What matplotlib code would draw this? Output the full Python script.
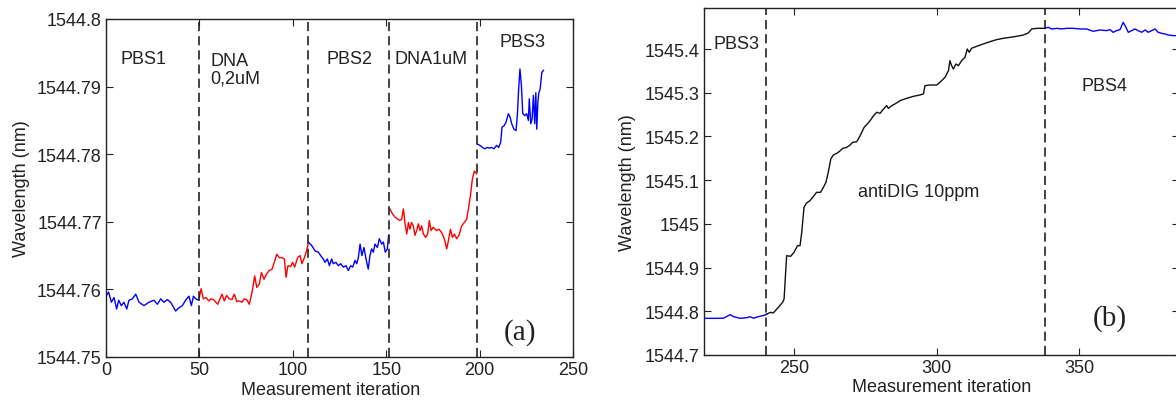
import matplotlib
matplotlib.use('Agg')
import matplotlib.pyplot as plt
from matplotlib.ticker import MultipleLocator, FuncFormatter

plt.rcParams['font.family'] = ['Liberation Sans', 'DejaVu Sans']

# ---- panel (a) data ----
pbs1_x = [0, 1.4, 2.9, 4.3, 5.7, 6.8, 8.2, 9.6, 11.1, 12.3, 14.1, 15.9, 17.7, 20.3, 23.0, 25.7,
          27.5, 29.3, 31.0, 32.8, 34.6, 37.3, 39.1, 40.9, 42.6, 44.4, 45.7, 46.8, 48.0, 49.8]
pbs1_y = [1544.7590, 1544.7596, 1544.7581, 1544.7588, 1544.7571, 1544.7584, 1544.7576, 1544.7581,
          1544.7571, 1544.7584, 1544.7586, 1544.7593, 1544.7581, 1544.7576, 1544.7581, 1544.7584,
          1544.7578, 1544.7586, 1544.7581, 1544.7585, 1544.7581, 1544.7568, 1544.7573, 1544.7576,
          1544.7584, 1544.7590, 1544.7576, 1544.7590, 1544.7586, 1544.7584]

dna02_x = [49.8, 50.9, 52.1, 53.5, 55.0, 56.2, 57.5, 58.5, 59.8, 61.0, 62.1, 63.3, 64.6, 66.0, 67.4,
           68.7, 70.0, 71.4, 72.8, 74.0, 75.3, 76.7, 78.2, 79.6, 80.7, 82.1, 83.2, 84.6, 86.0, 87.4,
           88.9, 90.1, 91.4, 92.8, 94.2, 95.5, 96.4, 97.4, 98.9, 99.9, 101.0, 102.6, 103.9, 104.9,
           106.2, 107.4, 108.2]
dna02_y = [1544.7586, 1544.7601, 1544.7586, 1544.7588, 1544.7583, 1544.7586, 1544.7585, 1544.7582,
           1544.7578, 1544.7586, 1544.7593, 1544.7583, 1544.7591, 1544.7586, 1544.7585, 1544.7593,
           1544.7582, 1544.7583, 1544.7581, 1544.7586, 1544.7585, 1544.7578, 1544.7596, 1544.7620,
           1544.7603, 1544.7608, 1544.7625, 1544.7615, 1544.7623, 1544.7628, 1544.7630, 1544.7640,
           1544.7652, 1544.7647, 1544.7647, 1544.7645, 1544.7618, 1544.7635, 1544.7634, 1544.7640,
           1544.7633, 1544.7647, 1544.7650, 1544.7638, 1544.7647, 1544.7657, 1544.7667]

pbs2_x = [108.3, 110.1, 111.9, 113.7, 114.9, 116.3, 117.2, 118.5, 119.6, 120.8, 121.7, 123.1, 124.4,
          125.6, 127.1, 128.5, 129.7, 131.0, 132.1, 133.3, 134.2, 135.1, 136.0, 137.0, 138.1, 139.2,
          140.4, 141.3, 142.2, 143.1, 144.0, 145.3, 146.3, 147.6, 148.5, 149.5, 150.6, 151.3]
pbs2_y = [1544.7670, 1544.7665, 1544.7657, 1544.7655, 1544.7650, 1544.7645, 1544.7640, 1544.7645,
          1544.7635, 1544.7645, 1544.7638, 1544.7640, 1544.7635, 1544.7638, 1544.7633, 1544.7635,
          1544.7628, 1544.7635, 1544.7633, 1544.7643, 1544.7638, 1544.7647, 1544.7667, 1544.7650,
          1544.7662, 1544.7645, 1544.7630, 1544.7650, 1544.7660, 1544.7655, 1544.7667, 1544.7662,
          1544.7675, 1544.7667, 1544.7670, 1544.7655, 1544.7660, 1544.7680]

dna1_x = [152.0, 153.3, 154.7, 156.1, 157.4, 158.3, 159.2, 160.1, 161.0, 161.9, 162.7, 163.6, 164.5,
          165.4, 166.3, 167.2, 168.1, 169.0, 169.9, 171.1, 172.2, 173.1, 174.0, 175.2, 176.1, 177.0,
          178.3, 179.7, 181.1, 182.4, 183.3, 184.4, 185.4, 186.5, 187.7, 189.0, 190.4, 191.8, 193.1,
          194.0, 195.1, 196.1, 197.2, 198.4]
dna1_y = [1544.7719, 1544.7712, 1544.7707, 1544.7704, 1544.7702, 1544.7704, 1544.7719, 1544.7697,
          1544.7682, 1544.7699, 1544.7689, 1544.7699, 1544.7694, 1544.7680, 1544.7687, 1544.7697,
          1544.7687, 1544.7694, 1544.7682, 1544.7677, 1544.7682, 1544.7702, 1544.7687, 1544.7692,
          1544.7689, 1544.7687, 1544.7689, 1544.7684, 1544.7675, 1544.7660, 1544.7672, 1544.7689,
          1544.7677, 1544.7682, 1544.7675, 1544.7680, 1544.7694, 1544.7699, 1544.7704, 1544.7719,
          1544.7739, 1544.7763, 1544.7775, 1544.7771]

pbs3_x = [198.8, 200.2, 201.6, 202.9, 204.1, 205.2, 206.5, 207.7, 209.1, 210.2, 211.3, 212.0, 213.1,
          214.1, 215.4, 216.3, 217.2, 218.4, 219.5, 220.2, 220.9, 221.6, 222.4, 223.1, 224.2, 225.2,
          226.1, 226.6, 227.4, 228.1, 228.8, 229.5, 230.1, 230.6, 231.2, 231.7, 232.4, 233.3, 234.2]
pbs3_y = [1544.7815, 1544.7813, 1544.7810, 1544.7808, 1544.7810, 1544.7809, 1544.7810, 1544.7808,
          1544.7813, 1544.7810, 1544.7818, 1544.7840, 1544.7842, 1544.7847, 1544.7860, 1544.7855,
          1544.7845, 1544.7837, 1544.7835, 1544.7857, 1544.7896, 1544.7926, 1544.7901, 1544.7860,
          1544.7857, 1544.7860, 1544.7850, 1544.7882, 1544.7845, 1544.7852, 1544.7887, 1544.7845,
          1544.7891, 1544.7837, 1544.7877, 1544.7891, 1544.7896, 1544.7921, 1544.7924]

# dashed boundaries between solutions, panel (a)
bounds_a = [50, 108, 151.5, 198.6]
labels_a = ['PBS1', 'DNA\n0,2uM', 'PBS2', 'DNA1uM', 'PBS3']
labels_a_x = [7.9, 55.7, 117.8, 154.3, 210.9]
labels_a_y = [1544.7941, 1544.79255, 1544.7941, 1544.7941, 1544.7966]

# ---- panel (b) data ----
pbs3b_x = [218.0, 221.7, 225.2, 227.6, 228.8, 231.1, 233.5, 234.6, 235.8, 237.0, 238.1, 239.9, 240.4]
pbs3b_y = [1544.7839, 1544.7839, 1544.7841, 1544.7923, 1544.7877, 1544.7839, 1544.7854, 1544.7877,
           1544.7841, 1544.7870, 1544.7885, 1544.7915, 1544.7938]

anti_x = [240.4, 241.8, 242.7, 244.5, 246.0, 246.5, 247.4, 248.8, 250.0, 251.2, 252.1, 252.7, 253.5,
          254.4, 255.6, 257.0, 257.9, 259.3, 260.3, 261.2, 262.0, 262.9, 263.8, 265.2, 266.1, 267.1,
          268.2, 269.4, 270.6, 272.0, 273.2, 274.6, 275.5, 276.7, 277.9, 279.0, 280.2,
          281.4, 282.5, 283.1, 284.3, 285.4, 287.2, 289.5, 291.9, 294.2, 295.4, 295.96, 297.7,
          300.1, 301.2, 303.0, 304.2, 304.7, 305.3, 305.9, 306.8, 307.7, 308.8, 310.0, 310.8,
          311.5, 312.3, 314.1, 316.4, 318.8, 321.1, 323.4, 325.8, 328.1, 330.5, 332.2, 333.4,
          335.2, 336.9, 338.1]
anti_y = [1544.7938, 1544.7976, 1544.7961, 1544.8091, 1544.8206, 1544.8281, 1544.9272, 1544.9258,
          1544.9350, 1544.9501, 1544.9501, 1544.9808, 1545.0380, 1545.0478, 1545.0532, 1545.0645,
          1545.0722, 1545.0722, 1545.0837, 1545.0951, 1545.1180, 1545.1485, 1545.1577, 1545.1622,
          1545.1668, 1545.1730, 1545.1744, 1545.1790, 1545.1867, 1545.1881, 1545.2018, 1545.2210,
          1545.2270, 1545.2362, 1545.2476, 1545.2554, 1545.2531,
          1545.2629, 1545.2706, 1545.2645, 1545.2706, 1545.2744, 1545.2820, 1545.2873, 1545.2919,
          1545.2950, 1545.2973, 1545.3163, 1545.3178, 1545.3178, 1545.3240, 1545.3354, 1545.3507,
          1545.3735, 1545.3621, 1545.3545, 1545.3659, 1545.3621, 1545.3735, 1545.3812, 1545.4002,
          1545.3926, 1545.4018, 1545.4063, 1545.4117, 1545.4170, 1545.4216, 1545.4246, 1545.4269,
          1545.4292, 1545.4323, 1545.4368, 1545.4460, 1545.4475, 1545.4475, 1545.4475]

pbs4_x = [338.1, 339.2, 340.4, 342.2, 343.9, 345.7, 348.0, 350.3, 352.7, 355.0, 357.4, 359.7, 360.9,
          362.0, 363.2, 364.4, 365.5, 366.5, 367.3, 368.5, 369.6, 370.8, 372.0, 373.2, 374.3, 375.5,
          376.7, 377.8, 379.0, 380.2, 381.3, 383.1, 385.0]
pbs4_y = [1545.4475, 1545.4498, 1545.4460, 1545.4475, 1545.4460, 1545.4475, 1545.4475, 1545.4460,
          1545.4460, 1545.4407, 1545.4437, 1545.4422, 1545.4445, 1545.4384, 1545.4422, 1545.4445,
          1545.4613, 1545.4498, 1545.4384, 1545.4422, 1545.4460, 1545.4422, 1545.4384, 1545.4437,
          1545.4384, 1545.4422, 1545.4460, 1545.4384, 1545.4361, 1545.4346, 1545.4323, 1545.4307,
          1545.4307]

bounds_b = [240.2, 338]
labels_b = ['PBS3', 'antiDIG 10ppm', 'PBS4']
labels_b_x = [221.6, 272.5, 351]
labels_b_y = [1545.412, 1545.073, 1545.316]


def style_axes(ax):
    ax.tick_params(direction='in', top=True, right=True, length=5, width=0.8,
                   labelsize=13, pad=3, colors='#222222')
    for s in ax.spines.values():
        s.set_color('#222222')
        s.set_linewidth(1.0)
    ax.yaxis.set_major_formatter(FuncFormatter(lambda v, p: '%.6g' % v))


fig = plt.figure(figsize=(11.76, 4.02), dpi=100)
W, H = 1176.0, 402.0

# panel (a)
ax1 = fig.add_axes([106 / W, 44 / H, 467 / W, 338 / H])
ax1.plot(pbs1_x, pbs1_y, color='#0000ff', lw=1.0)
ax1.plot(dna02_x, dna02_y, color='#ff0000', lw=1.0)
ax1.plot(pbs2_x, pbs2_y, color='#0000ff', lw=1.0)
ax1.plot(dna1_x, dna1_y, color='#ff0000', lw=1.0)
ax1.plot(pbs3_x, pbs3_y, color='#0000ff', lw=1.0)
for b in bounds_a:
    ax1.axvline(b, color='#222222', lw=1.2, linestyle=(0, (5.5, 3)))
for t, x, y in zip(labels_a, labels_a_x, labels_a_y):
    ax1.text(x, y, t, fontsize=13, ha='left', va='center', linespacing=1.0, color='#222222')
ax1.text(221.5, 1544.7538, '(a)', fontsize=21, family='Liberation Serif',
         ha='center', va='center', color='#222222')
ax1.set_xlim(0, 250)
ax1.set_ylim(1544.75, 1544.8)
ax1.xaxis.set_major_locator(MultipleLocator(50))
ax1.yaxis.set_major_locator(MultipleLocator(0.01))
style_axes(ax1)
ax1.set_xlabel('Measurement iteration', fontsize=13, labelpad=1, color='#222222')
ax1.xaxis.set_label_coords(0.482, -0.07)
ax1.set_ylabel('Wavelength (nm)', fontsize=13, labelpad=5, color='#222222')

# panel (b), right side runs off the picture like in the original
ax2 = fig.add_axes([704 / W, 46 / H, 475 / W, 347 / H])
ax2.plot(pbs3b_x, pbs3b_y, color='#0000ff', lw=1.0)
ax2.plot(anti_x, anti_y, color='#111111', lw=1.0)
ax2.plot(pbs4_x, pbs4_y, color='#0000ff', lw=1.0)
for b in bounds_b:
    ax2.axvline(b, color='#222222', lw=1.2, linestyle=(0, (5.5, 3)))
for t, x, y in zip(labels_b, labels_b_x, labels_b_y):
    ax2.text(x, y, t, fontsize=13, ha='left', va='center', color='#222222')
ax2.text(360.9, 1544.7847, '(b)', fontsize=21, family='Liberation Serif',
         ha='center', va='center', color='#222222')
ax2.set_xlim(218.4, 385.1)
ax2.set_ylim(1544.7, 1545.494)
ax2.xaxis.set_major_locator(MultipleLocator(50))
ax2.yaxis.set_major_locator(MultipleLocator(0.1))
style_axes(ax2)
ax2.set_xlabel('Measurement iteration', fontsize=13, labelpad=1, color='#222222')
ax2.set_ylabel('Wavelength (nm)', fontsize=13, labelpad=6, color='#222222')

fig.savefig('out.png', dpi=100)
